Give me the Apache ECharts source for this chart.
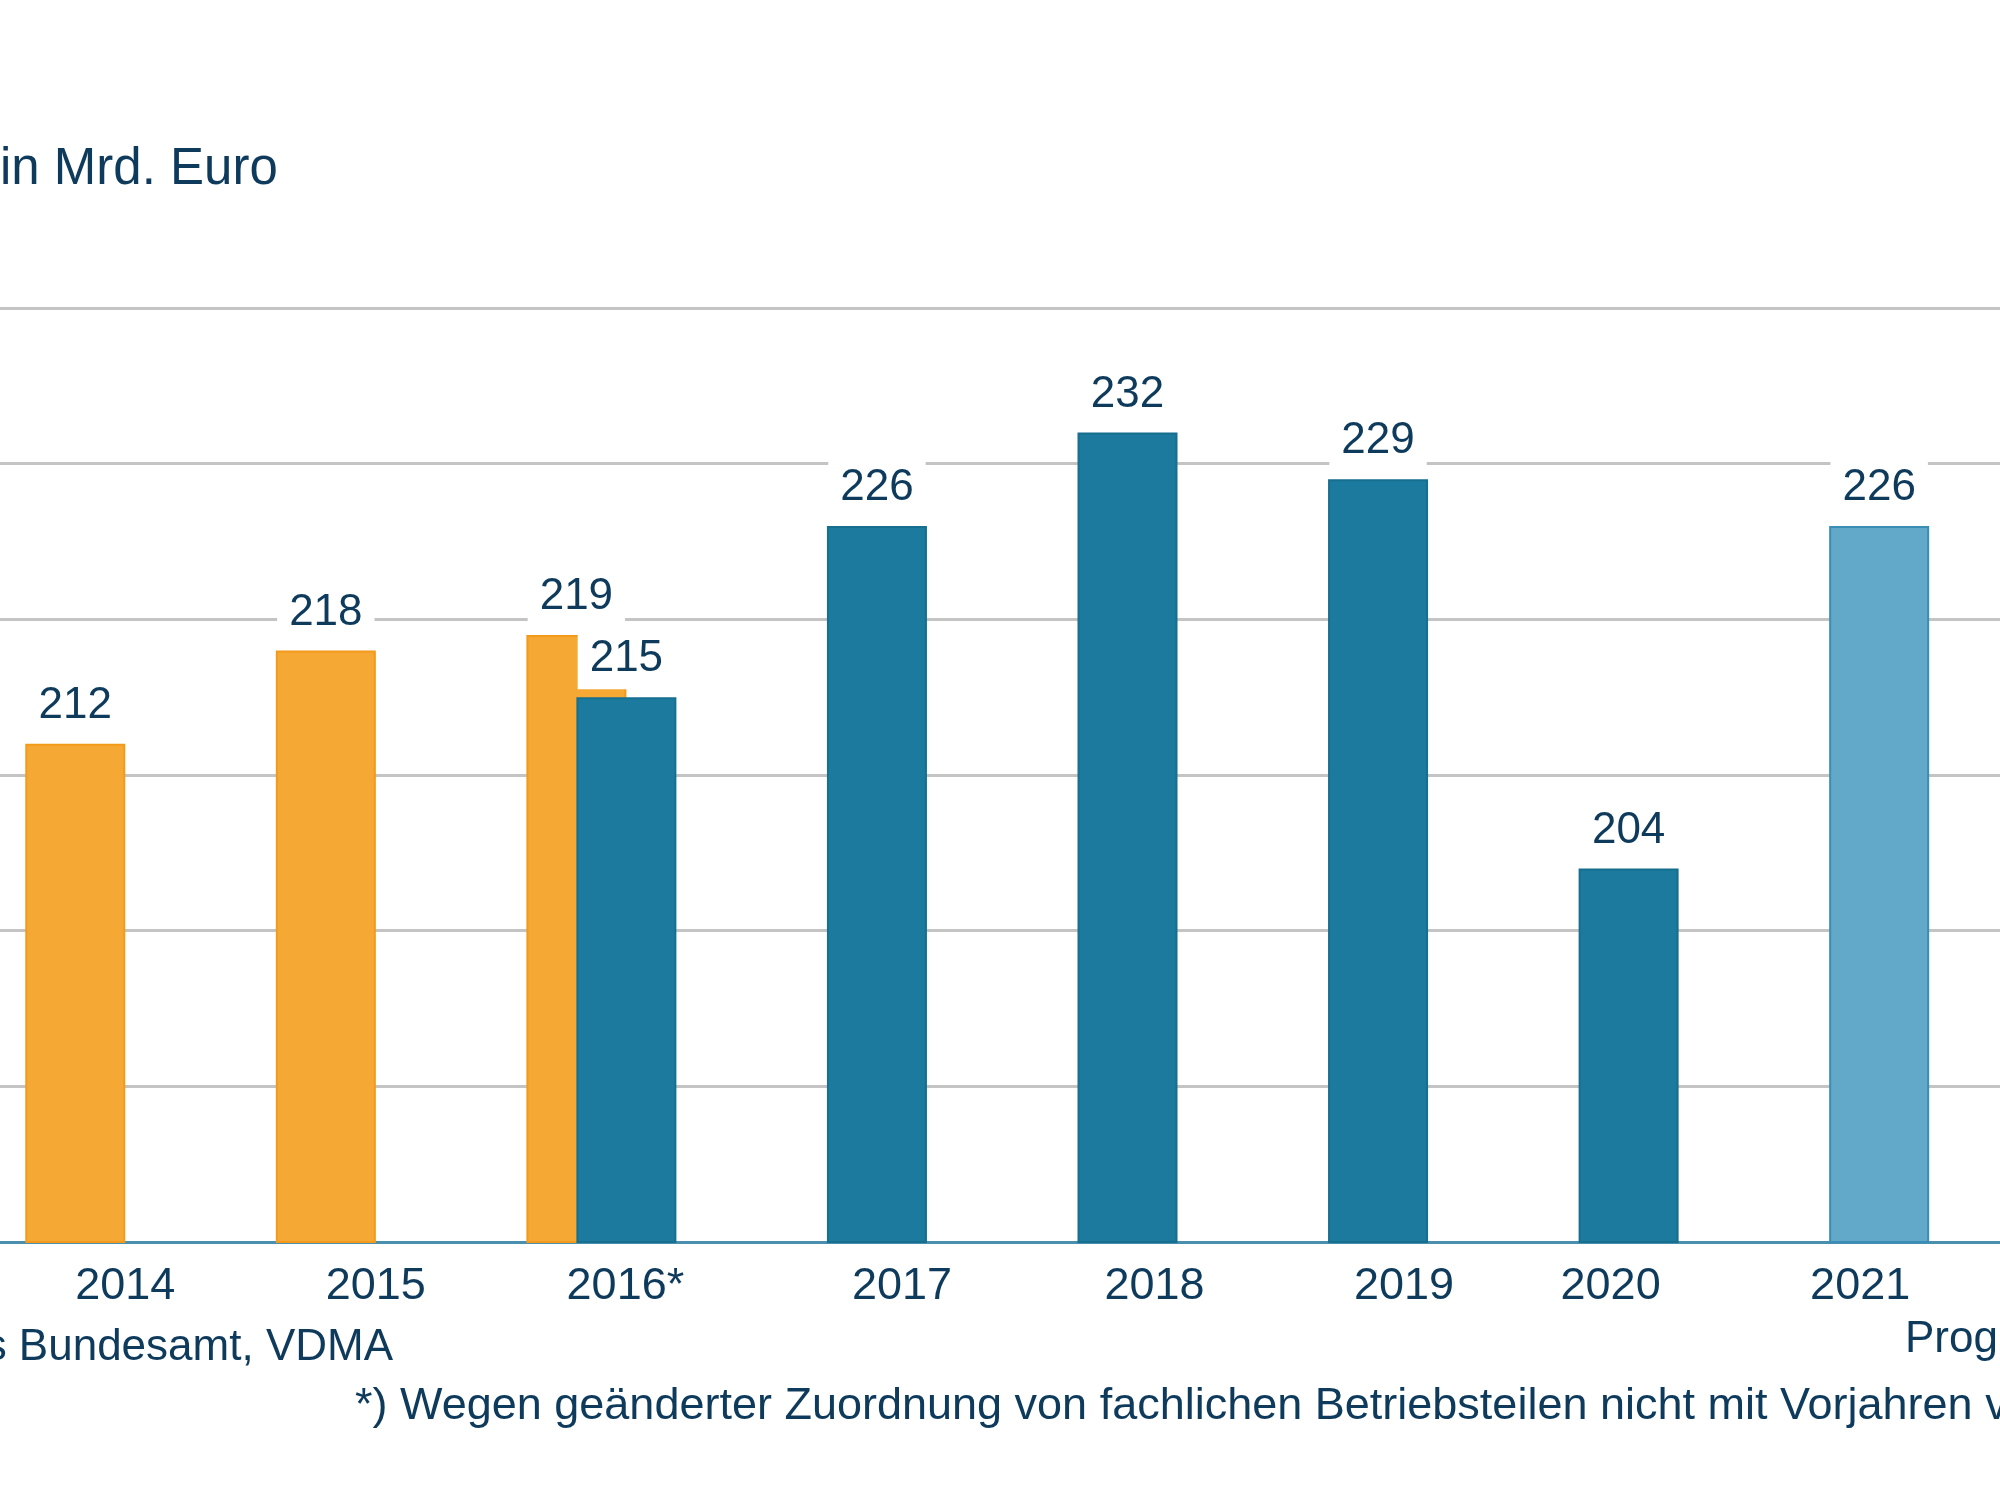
<!DOCTYPE html>
<html>
<head>
<meta charset="utf-8">
<script src="https://cdn.jsdelivr.net/npm/echarts@6/dist/echarts.min.js"></script>
<style>
  html, body { margin: 0; padding: 0; background: #fff; }
  #chart { width: 2000px; height: 1500px; }
</style>
</head>
<body>
<div id="chart"></div>
<script>
// Umsatz Maschinenbau, in Mrd. Euro
var years = ['2014', '2015', '2016*', '2017', '2018', '2019', '2020', '2021', '2022'];
// alte Abgrenzung (orange)
var oldBasis = [212, 218, 219, null, null, null, null, null, null];
// neue Abgrenzung (blau)
var newBasis = [null, null, 215, 226, 232, 229, 204, 226, null];
var forecastYears = ['2021', '2022'];

var textColor = '#0e3a5c';
var fontFamily = '"Liberation Sans", Arial, sans-serif';

// horizontale Verschiebung der Jahreszahlen wie im Original
var labelShift = [25, 25, 24, 50, 52, 51, 7, 6, 0];
var rich = {};
labelShift.forEach(function (s, i) {
    rich['s' + i] = {
        fontSize: 45,
        fontFamily: fontFamily,
        color: textColor,
        padding: [0, 0, 0, s * 2]
    };
});

var valueLabel = {
    show: true,
    position: 'top',
    distance: 8,
    fontSize: 44,
    fontFamily: fontFamily,
    color: textColor,
    backgroundColor: '#fff',
    padding: [4, 12, 8, 12]
};

var myChart = echarts.init(document.getElementById('chart'));
var option = {
    backgroundColor: '#fff',
    animation: false,
    grid: {
        left: -25,
        right: -230,
        top: 308,
        bottom: 258,
        containLabel: false,
        outerBoundsMode: 'none'
    },
    xAxis: {
        type: 'category',
        data: years,
        boundaryGap: true,
        axisTick: { show: false },
        axisLine: { lineStyle: { color: '#4a8fad', width: 3 } },
        axisLabel: {
            interval: 0,
            margin: 22,
            formatter: function (v, i) {
                return '{s' + i + '|' + v + '}';
            },
            rich: rich
        }
    },
    yAxis: {
        type: 'value',
        min: 180,
        max: 240,
        interval: 10,
        axisLabel: { show: false },
        axisLine: { show: false },
        axisTick: { show: false },
        splitLine: { lineStyle: { color: '#c4c4c4', width: 3 } }
    },
    series: [
        {
            name: 'alt',
            type: 'bar',
            data: oldBasis,
            barWidth: 100,
            barGap: '-50%',
            itemStyle: { color: '#f6a834', borderColor: '#f39a1c', borderWidth: 2 },
            label: valueLabel
        },
        {
            name: 'neu',
            type: 'bar',
            data: newBasis.map(function (v, i) {
                if (forecastYears.indexOf(years[i]) >= 0) {
                    return { value: v, itemStyle: { color: '#62a9c9', borderColor: '#3a8db4' } };
                }
                return v;
            }),
            barWidth: 100,
            itemStyle: { color: '#1b7a9e', borderColor: '#176f90', borderWidth: 2 },
            label: valueLabel
        }
    ],
    graphic: [
        {
            type: 'text', left: 0, top: 144,
            style: { text: 'in Mrd. Euro', font: '51px ' + fontFamily, fill: textColor }
        },
        {
            type: 'text', x: 393, y: 1348,
            style: {
                text: 'Quelle: Statistisches Bundesamt, VDMA', font: '44px ' + fontFamily,
                fill: textColor, align: 'right', verticalAlign: 'middle'
            }
        },
        {
            type: 'text', x: 1905, y: 1340,
            style: {
                text: 'Prognose', font: '44px ' + fontFamily,
                fill: textColor, align: 'left', verticalAlign: 'middle'
            }
        },
        {
            type: 'text', x: 355, y: 1407,
            style: {
                text: '*) Wegen geänderter Zuordnung von fachlichen Betriebsteilen nicht mit Vorjahren vergleichbar',
                font: '45px ' + fontFamily,
                fill: textColor, align: 'left', verticalAlign: 'middle'
            }
        }
    ]
};
myChart.setOption(option);
</script>
</body>
</html>
